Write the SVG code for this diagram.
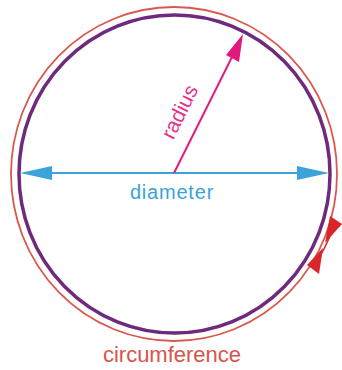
<svg xmlns="http://www.w3.org/2000/svg" width="342" height="370" viewBox="0 0 342 370">
<style>
.lbl{font-family:"Liberation Sans",Arial,sans-serif;}
</style>
<rect width="342" height="370" fill="#ffffff"/>
<g id="circumference">
<ellipse cx="174" cy="174" rx="163" ry="167" fill="none" stroke="#d9574f" stroke-width="1.8"/>
<ellipse cx="174.5" cy="174" rx="155.5" ry="159" fill="none" stroke="#6e2a7c" stroke-width="3.5"/>
<path d="M334,226 Q326,248 314,266" fill="none" stroke="#d9262a" stroke-width="1.5"/>
<polygon points="330,216 342,224 325,243" fill="#d9262a"/>
<polygon points="323,248 319,274 307,265" fill="#d9262a"/>
<text class="lbl" x="172" y="362" font-size="22" fill="#d9534f" text-anchor="middle">circumference</text>
</g>
<g id="connectors">
<line x1="50" y1="173" x2="299" y2="173" stroke="#3ba3d9" stroke-width="2"/>
<polygon points="20,173 52,166 52,180" fill="#3ba3d9"/>
<polygon points="329,173 297,166 297,180" fill="#3ba3d9"/>
<line x1="174" y1="173" x2="233" y2="55" stroke="#e0197d" stroke-width="2"/>
<polygon points="243,34 239,62 226,55" fill="#e0197d"/>
</g>
<g id="diameter">
<text class="lbl" x="172" y="199" font-size="20" fill="#3ba3d9" text-anchor="middle" letter-spacing="0.8">diameter</text>
</g>
<g id="radius">
<text class="lbl" x="186" y="115" font-size="21" fill="#e4338c" text-anchor="middle" transform="rotate(-63.4 186 115)">radius</text>
</g>
</svg>
